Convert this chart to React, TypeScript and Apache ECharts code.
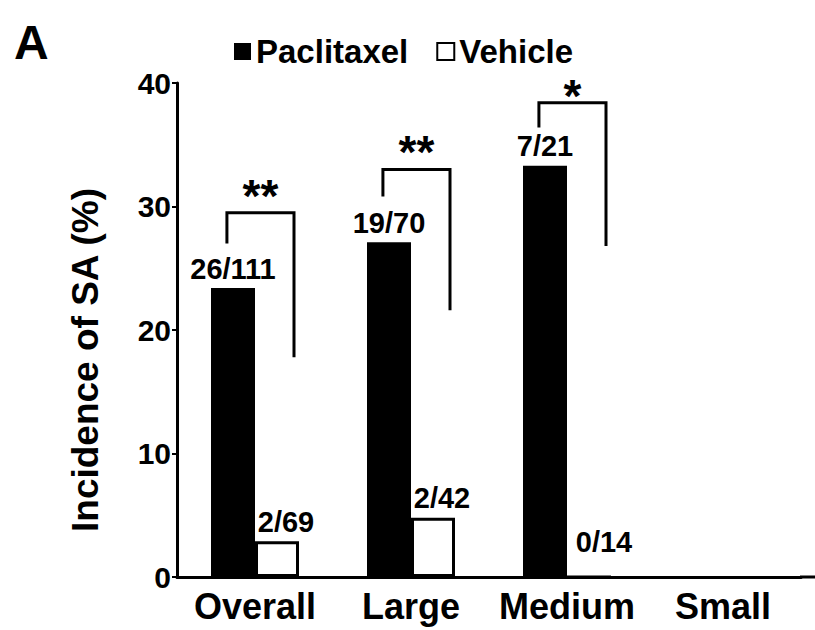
import React, { useEffect, useRef } from "react";
import * as echarts from "echarts";

const categories = ["Overall", "Large", "Medium", "Small"];
const paclitaxelValues: (number | null)[] = [23.4, 27.1, 33.3, null];
const vehicleValues: (number | null)[] = [2.9, 4.8, 0, null];
const paclitaxelLabels = ["26/111", "19/70", "7/21", ""];
const vehicleLabels = ["2/69", "2/42", "0/14", ""];
const yTicks = { min: 0, max: 40, interval: 10 };
// significance brackets: [category index, bracket top, left arm end, right arm end]
const brackets = [
  [0, 29.5, 27.0, 17.8],
  [1, 33.0, 30.8, 21.6],
  [2, 38.4, 36.4, 26.8],
];
const sigMarks = ["**", "**", "*"];

const FONT = '"Liberation Sans", Arial, Helvetica, sans-serif';

export default function App() {
  const ref = useRef<HTMLDivElement>(null);
  useEffect(() => {
    if (!ref.current) return;
    const chart = echarts.init(ref.current, null, { renderer: "svg" });
    const option: any = {
      animation: false,
      backgroundColor: "#fff",
      textStyle: { fontFamily: FONT },
      grid: { left: 177, right: 14, top: 83, bottom: 53, containLabel: false },
      legend: {
        data: ["Paclitaxel", "Vehicle"],
        left: 229,
        top: 30,
        icon: "rect",
        itemWidth: 17,
        itemHeight: 17,
        itemGap: 28,
        textStyle: { fontSize: 33, lineHeight: 30, fontWeight: "bold", color: "#000", fontFamily: FONT },
      },
      xAxis: {
        type: "category",
        data: categories,
        axisLine: { lineStyle: { color: "#000", width: 3 } },
        axisTick: { show: false },
        axisLabel: { interval: 0, color: "#000", fontSize: 36, fontWeight: "bold", margin: 11, fontFamily: FONT },
      },
      yAxis: {
        type: "value",
        min: yTicks.min,
        max: yTicks.max,
        interval: yTicks.interval,
        splitLine: { show: false },
        axisLine: { show: true, lineStyle: { color: "#000", width: 3 } },
        axisTick: { show: true, length: 5, lineStyle: { color: "#000", width: 2 } },
        axisLabel: { color: "#000", fontSize: 30, fontWeight: "bold", margin: 6, fontFamily: FONT },
      },
      graphic: [
        {
          type: "text",
          left: 14,
          top: 18,
          style: { text: "A", font: `bold 48px ${FONT}`, fill: "#000" },
        },
        {
          type: "text",
          x: 85,
          y: 360,
          rotation: Math.PI / 2,
          style: {
            text: "Incidence of SA (%)",
            font: `bold 37px ${FONT}`,
            fill: "#000",
            align: "center",
            verticalAlign: "middle",
          },
        },
        {
          type: "line",
          shape: { x1: 800, y1: 577, x2: 815, y2: 577 },
          style: { stroke: "#000", lineWidth: 3 },
        },
      ],
      series: [
        {
          name: "Paclitaxel",
          type: "bar",
          barWidth: 44,
          barGap: "0%",
          data: paclitaxelValues,
          itemStyle: { color: "#000" },
          label: {
            show: true,
            position: "top",
            distance: 5,
            color: "#000",
            fontSize: 29,
            fontWeight: "bold",
            fontFamily: FONT,
            formatter: (p: any) => paclitaxelLabels[p.dataIndex],
          },
        },
        {
          name: "Vehicle",
          type: "bar",
          barWidth: 44,
          data: vehicleValues.map((v) => ({
            value: v,
            label: v === 0 ? { offset: [15, -14] } : { offset: [9, 0] },
          })),
          itemStyle: { color: "#fff", borderColor: "#000", borderWidth: 3 },
          label: {
            show: true,
            position: "top",
            distance: 5,
            color: "#000",
            fontSize: 29,
            fontWeight: "bold",
            fontFamily: FONT,
            formatter: (p: any) => vehicleLabels[p.dataIndex],
          },
        },
        {
          type: "custom",
          name: "sig",
          data: brackets,
          encode: { x: 0, y: 1 },
          silent: true,
          renderItem: (params: any, api: any) => {
            const idx = api.value(0);
            const top = api.coord([idx, api.value(1)]);
            const lb = api.coord([idx, api.value(2)]);
            const rb = api.coord([idx, api.value(3)]);
            const band = api.size([1, 0])[0];
            const xl = top[0] - band * 0.18;
            const xr = top[0] + band * 0.25;
            const mark = sigMarks[params.dataIndex];
            return {
              type: "group",
              children: [
                {
                  type: "polyline",
                  shape: { points: [[xl, lb[1]], [xl, top[1]], [xr, top[1]], [xr, rb[1]]] },
                  style: { stroke: "#000", lineWidth: 3, fill: "none" },
                },
                {
                  type: "text",
                  style: {
                    text: mark,
                    x: (xl + xr) / 2,
                    y: top[1] - (mark.length > 1 ? 17 : 7),
                    align: "center",
                    verticalAlign: "middle",
                    font: `bold 46px ${FONT}`,
                    fill: "#000",
                  },
                },
              ],
            };
          },
        },
      ],
    };
    chart.setOption(option);
    return () => chart.dispose();
  }, []);
  return (
    <div
      ref={ref}
      style={{ position: "absolute", left: 0, top: 0, width: 815, height: 630 }}
    />
  );
}
